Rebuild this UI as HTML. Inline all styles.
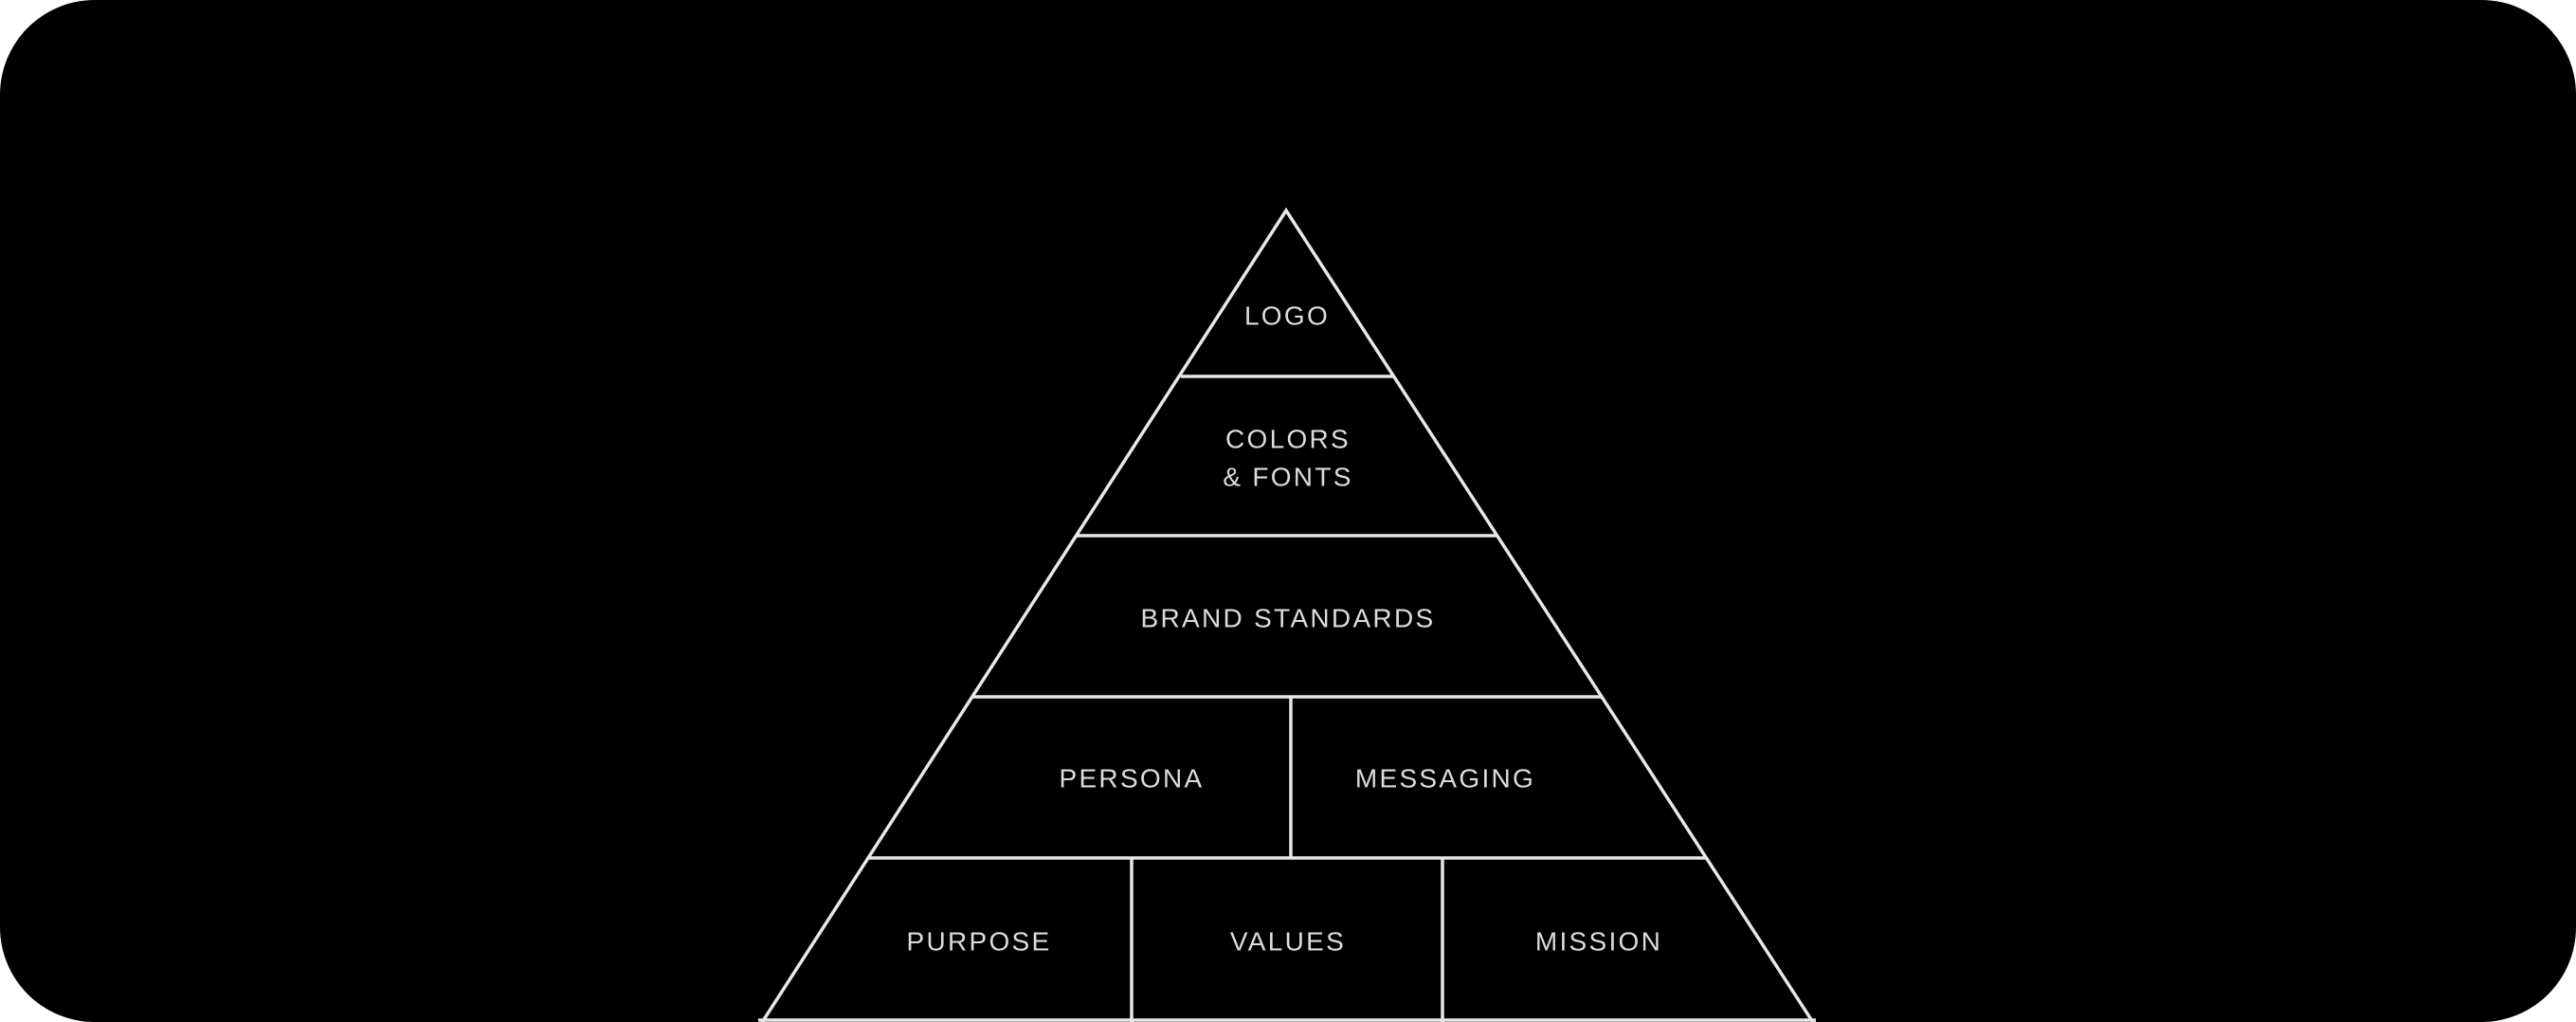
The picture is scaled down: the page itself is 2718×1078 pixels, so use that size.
<!DOCTYPE html>
<html><head><meta charset="utf-8"><style>
html,body{margin:0;padding:0;background:#fff;}
.wrap{width:2718px;height:1078px;background:#000;border-radius:100px;overflow:hidden;position:relative;}
svg{position:absolute;left:0;top:0;}
text{font-family:"Liberation Sans",sans-serif;font-size:28px;fill:#dcdcdc;letter-spacing:2.3px;}
</style></head><body>
<div class="wrap">
<svg width="2718" height="1078" viewBox="0 0 2718 1078">
<g stroke="#e8e8e8" stroke-width="3.5" fill="none">
<polyline points="803,1080 1357,222 1914,1080"/>
<line x1="1246" y1="397" x2="1470" y2="397"/>
<line x1="1135" y1="565" x2="1580" y2="565"/>
<line x1="1025" y1="735" x2="1691" y2="735"/>
<line x1="915" y1="905" x2="1801" y2="905"/>
<line x1="800" y1="1076" x2="1916" y2="1076"/>
<line x1="1362" y1="735" x2="1362" y2="905"/>
<line x1="1194" y1="905" x2="1194" y2="1078"/>
<line x1="1522" y1="905" x2="1522" y2="1078"/>
</g>
<g text-anchor="middle" dominant-baseline="central">
<text x="1358" y="333">LOGO</text>
<text x="1359" y="463">COLORS</text>
<text x="1359" y="503">&amp; FONTS</text>
<text x="1359" y="652">BRAND STANDARDS</text>
<text x="1194" y="821">PERSONA</text>
<text x="1525" y="821">MESSAGING</text>
<text x="1033" y="993">PURPOSE</text>
<text x="1359" y="993">VALUES</text>
<text x="1687" y="993">MISSION</text>
</g>
</svg>
</div>
</body></html>
